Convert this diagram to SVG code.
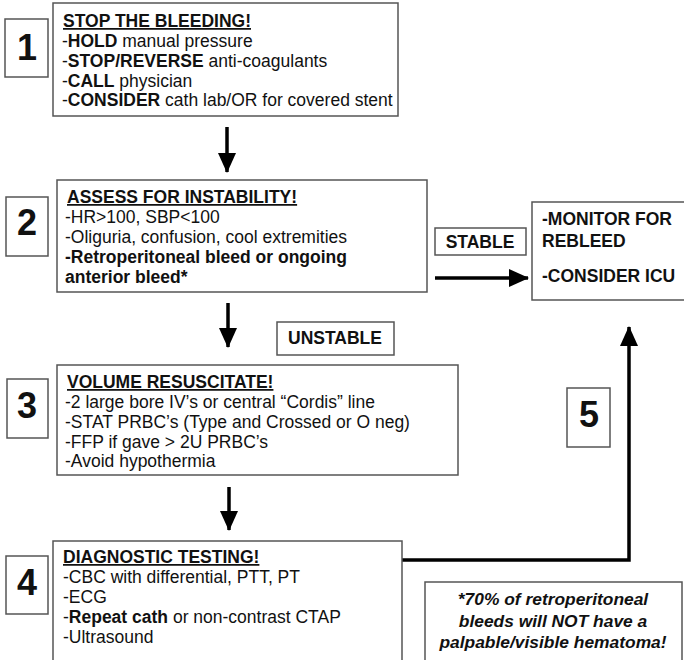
<svg xmlns="http://www.w3.org/2000/svg" width="684" height="660" viewBox="0 0 684 660">
<defs>
<style>
.box{fill:#fff;stroke:#555;stroke-width:1.5}
.t{font-family:"Liberation Sans",Arial,sans-serif;font-size:17.5px;fill:#111}
.b{font-weight:bold}
.u{font-weight:bold;text-decoration:underline}
.num{font-family:"Liberation Sans",Arial,sans-serif;font-size:36px;font-weight:bold;fill:#111;text-anchor:middle}
.lbl{font-family:"Liberation Sans",Arial,sans-serif;font-size:17.5px;font-weight:bold;fill:#111;text-anchor:middle}
.foot{font-family:"Liberation Sans",Arial,sans-serif;font-size:17.4px;font-weight:bold;font-style:italic;fill:#111;text-anchor:middle}
.arr{fill:none;stroke:#000;stroke-width:3.5}
</style>
<marker id="ah" viewBox="0 0 20 20" refX="19" refY="10" markerWidth="20" markerHeight="20" markerUnits="userSpaceOnUse" orient="auto">
<path d="M0,1 L20,10 L0,19 Z" fill="#000"/>
</marker>
</defs>
<rect width="684" height="660" fill="#fff"/>

<g id="connectors">
<line class="arr" x1="227" y1="127" x2="227" y2="172" marker-end="url(#ah)"/>
<line class="arr" x1="228" y1="303" x2="228" y2="347" marker-end="url(#ah)"/>
<line class="arr" x1="229" y1="487" x2="229" y2="530" marker-end="url(#ah)"/>
<line class="arr" x1="435" y1="278" x2="528" y2="278" marker-end="url(#ah)"/>
<path class="arr" d="M402,560 H629 V327" marker-end="url(#ah)"/>
</g>

<g id="label1"><rect class="box" x="5" y="19" width="43" height="58"/><text class="num" x="27" y="60">1</text></g>
<g id="step1">
<rect class="box" x="53" y="3" width="345" height="113"/>
<text class="t" x="63" y="27"><tspan class="u">STOP THE BLEEDING!</tspan></text>
<text class="t" x="62" y="47">-<tspan class="b">HOLD</tspan> manual pressure</text>
<text class="t" x="62" y="67">-<tspan class="b">STOP/REVERSE</tspan> anti-coagulants</text>
<text class="t" x="62" y="87">-<tspan class="b">CALL</tspan> physician</text>
<text class="t" x="62" y="106">-<tspan class="b">CONSIDER</tspan> cath lab/OR for covered stent</text>
</g>

<g id="label2"><rect class="box" x="6" y="197" width="42" height="59"/><text class="num" x="27" y="235">2</text></g>
<g id="step2">
<rect class="box" x="57" y="180" width="370" height="112"/>
<text class="t" x="67" y="203"><tspan class="u">ASSESS FOR INSTABILITY!</tspan></text>
<text class="t" x="65" y="223">-HR&gt;100, SBP&lt;100</text>
<text class="t" x="65" y="243">-Oliguria, confusion, cool extremities</text>
<text class="t b" x="65" y="263">-Retroperitoneal bleed or ongoing</text>
<text class="t b" x="65" y="283">anterior bleed*</text>
</g>

<g id="stable"><rect class="box" x="435" y="228" width="91" height="27"/><text class="lbl" x="480" y="248">STABLE</text></g>

<g id="monitor">
<rect class="box" x="532" y="202" width="170" height="98"/>
<text class="t b" x="542" y="225">-MONITOR FOR</text>
<text class="t b" x="542" y="247">REBLEED</text>
<text class="t b" x="542" y="282">-CONSIDER ICU</text>
</g>

<g id="unstable"><rect class="box" x="277" y="322" width="117" height="33"/><text class="lbl" x="335" y="344">UNSTABLE</text></g>

<g id="label3"><rect class="box" x="7" y="379" width="41" height="59"/><text class="num" x="27" y="418">3</text></g>
<g id="step3">
<rect class="box" x="57" y="365" width="401" height="110"/>
<text class="t" x="67" y="388"><tspan class="u">VOLUME RESUSCITATE!</tspan></text>
<text class="t" x="65" y="408">-2 large bore IV’s or central “Cordis” line</text>
<text class="t" x="65" y="428">-STAT PRBC’s (Type and Crossed or O neg)</text>
<text class="t" x="65" y="448">-FFP if gave &gt; 2U PRBC’s</text>
<text class="t" x="65" y="467">-Avoid hypothermia</text>
</g>

<g id="label4"><rect class="box" x="6" y="556" width="42" height="58"/><text class="num" x="27" y="595">4</text></g>
<g id="step4">
<rect class="box" x="53" y="541" width="349" height="130"/>
<text class="t" x="63" y="563"><tspan class="u">DIAGNOSTIC TESTING!</tspan></text>
<text class="t" x="63" y="583">-CBC with differential, PTT, PT</text>
<text class="t" x="63" y="603">-ECG</text>
<text class="t" x="63" y="623">-<tspan class="b">Repeat cath</tspan> or non-contrast CTAP</text>
<text class="t" x="63" y="643">-Ultrasound</text>
</g>

<g id="label5"><rect class="box" x="567" y="388" width="43" height="59"/><text class="num" x="589" y="427">5</text></g>

<g id="footnote">
<rect class="box" x="425" y="582" width="257" height="90"/>
<text class="foot" x="553" y="605">*70% of retroperitoneal</text>
<text class="foot" x="553" y="627">bleeds will NOT have a</text>
<text class="foot" x="553" y="648">palpable/visible hematoma!</text>
</g>
</svg>
